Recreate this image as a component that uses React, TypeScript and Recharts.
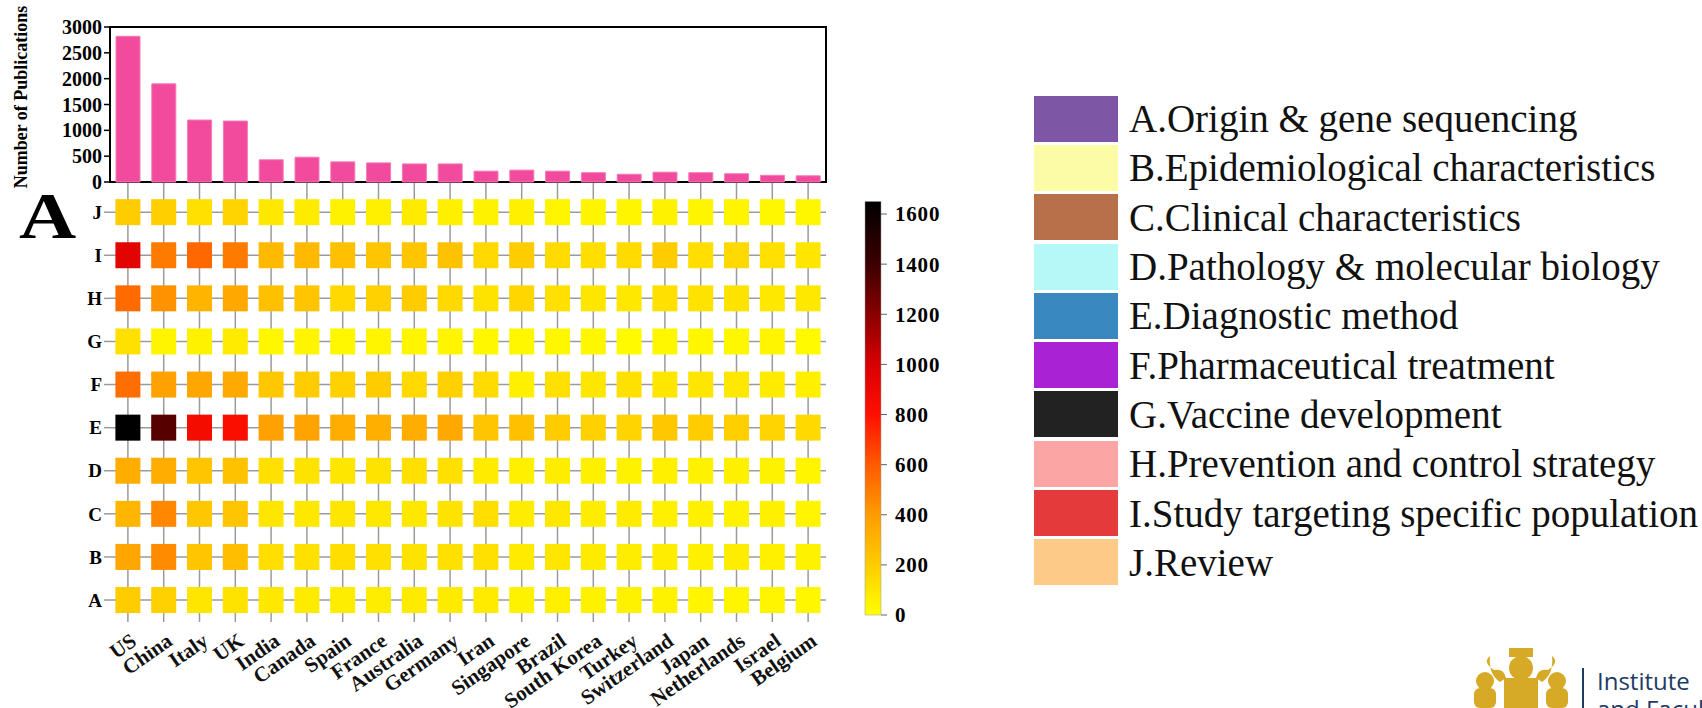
import React from "react";
import {
  BarChart,
  Bar,
  XAxis,
  YAxis,
  ScatterChart,
  Scatter,
  CartesianGrid,
  ReferenceArea,
} from "recharts";

const serif = "'Liberation Serif', 'Times New Roman', serif";

const countries = [
  "US", "China", "Italy", "UK", "India", "Canada", "Spain", "France", "Australia", "Germany",
  "Iran", "Singapore", "Brazil", "South Korea", "Turkey", "Switzerland", "Japan", "Netherlands", "Israel", "Belgium",
];

const publications = [2820, 1900, 1200, 1180, 430, 480, 390, 370, 350, 350, 210, 230, 210, 180, 150, 190, 180, 160, 130, 120];
const pubTicks = [0, 500, 1000, 1500, 2000, 2500, 3000];

const topicKeys = ["A", "B", "C", "D", "E", "F", "G", "H", "I", "J"];
const topicNames = [
  "A.Origin & gene sequencing",
  "B.Epidemiological characteristics",
  "C.Clinical characteristics",
  "D.Pathology & molecular biology",
  "E.Diagnostic method",
  "F.Pharmaceutical treatment",
  "G.Vaccine development",
  "H.Prevention and control strategy",
  "I.Study targeting specific population",
  "J.Review",
];
const topicColors = ["#7e56a6", "#fdfca6", "#b8704a", "#b6f8f8", "#3a88c0", "#a923d5", "#222222", "#fba5a5", "#e53a3b", "#fdca88"];

// papers per topic, one value per country (same order as countries)
const topicA = [200, 180, 100, 110, 90, 80, 70, 70, 80, 80, 80, 50, 60, 50, 50, 50, 40, 40, 40, 30];
const topicB = [360, 450, 230, 260, 130, 120, 130, 120, 110, 120, 120, 80, 100, 80, 70, 70, 60, 70, 60, 50];
const topicC = [290, 460, 220, 230, 100, 90, 100, 90, 90, 110, 130, 70, 90, 70, 80, 60, 60, 50, 60, 40];
const topicD = [330, 330, 230, 240, 120, 110, 100, 110, 120, 120, 80, 60, 70, 60, 50, 60, 50, 60, 50, 40];
const topicE = [1650, 1330, 850, 830, 380, 370, 330, 320, 330, 350, 230, 250, 200, 180, 170, 220, 200, 190, 170, 150];
const topicF = [540, 380, 360, 340, 220, 200, 180, 200, 150, 180, 140, 60, 120, 100, 120, 100, 100, 90, 80, 60];
const topicG = [120, 40, 50, 80, 30, 40, 30, 40, 40, 40, 30, 30, 30, 30, 20, 30, 30, 30, 40, 20];
const topicH = [550, 430, 300, 350, 250, 230, 150, 180, 200, 150, 110, 160, 120, 100, 90, 120, 110, 110, 90, 90];
const topicI = [950, 500, 560, 500, 280, 280, 250, 230, 230, 240, 150, 200, 140, 130, 140, 200, 130, 150, 120, 100];
const topicJ = [200, 190, 120, 170, 90, 80, 50, 60, 80, 60, 50, 60, 40, 40, 40, 50, 40, 40, 30, 30];

const topicRows = [topicA, topicB, topicC, topicD, topicE, topicF, topicG, topicH, topicI, topicJ];

const colorMax = 1650;
const colorTicks = [0, 200, 400, 600, 800, 1000, 1200, 1400, 1600];
const heatStops: [number, string][] = [
  [0, "#ffff00"],
  [200, "#ffcc00"],
  [400, "#ff9c00"],
  [600, "#ff5a00"],
  [800, "#ff1000"],
  [1000, "#d80000"],
  [1200, "#8a0000"],
  [1400, "#3c0000"],
  [1650, "#000000"],
];

function hexToRgb(h: string) {
  return [1, 3, 5].map((i) => parseInt(h.slice(i, i + 2), 16));
}

function heatColor(v: number) {
  const val = Math.max(0, Math.min(colorMax, v));
  for (let i = 1; i < heatStops.length; i++) {
    const [v1, c1] = heatStops[i];
    if (val <= v1) {
      const [v0, c0] = heatStops[i - 1];
      const t = (val - v0) / (v1 - v0);
      const a = hexToRgb(c0);
      const b = hexToRgb(c1);
      const rgb = a.map((x, k) => Math.round(x + (b[k] - x) * t));
      return `rgb(${rgb[0]},${rgb[1]},${rgb[2]})`;
    }
  }
  return "#000";
}

const barData = countries.map((c, i) => ({ country: c, count: publications[i] }));
const heatCells = topicRows.flatMap((row, r) =>
  row.map((value, col) => ({ col, row: r, value }))
);
const colorData = [{ name: "scale", span: [0, colorMax] }];

const colIdx = countries.map((_, i) => i);
const rowIdx = topicKeys.map((_, i) => i);

function HeatCell(props: any) {
  const { cx, cy, payload } = props;
  return <rect x={cx - 12.5} y={cy - 13} width={25} height={26} fill={heatColor(payload.value)} />;
}

function CountryTick(props: any) {
  const { x, y, payload } = props;
  const tx = x + 10;
  const ty = y + 14;
  return (
    <text
      x={tx}
      y={ty}
      transform={`rotate(-35, ${tx}, ${ty})`}
      textAnchor="end"
      fontFamily={serif}
      fontWeight="bold"
      fontSize={21}
      fill="#111"
    >
      {countries[payload.value]}
    </text>
  );
}

const axisFont = { fontFamily: serif, fontWeight: 700, fontSize: 20, fill: "#000" };

export default function App() {
  return (
    <div style={{ position: "fixed", left: 0, top: 0, width: 1702, height: 708, background: "#fff", overflow: "hidden" }}>
      {/* heatmap */}
      <div style={{ position: "absolute", left: 0, top: 0 }}>
        <ScatterChart width={850} height={708} margin={{ top: 182, right: 24, bottom: 0, left: 0 }}>
          <CartesianGrid stroke="#9b9b9b" strokeWidth={1.5} syncWithTicks />
          <XAxis
            type="number"
            dataKey="col"
            domain={[-0.5, 19.5]}
            ticks={colIdx}
            interval={0}
            tick={<CountryTick />}
            tickLine={false}
            axisLine={false}
            height={86}
          />
          <YAxis
            type="number"
            dataKey="row"
            domain={[-0.51, 9.7]}
            ticks={rowIdx}
            interval={0}
            tickFormatter={(v: number) => topicKeys[v]}
            tick={{ ...axisFont, fontSize: 19 }}
            tickLine={{ stroke: "#9b9b9b", strokeWidth: 1.5 }}
            axisLine={false}
            width={110}
          />
          <Scatter data={heatCells} shape={HeatCell} isAnimationActive={false} />
        </ScatterChart>
      </div>

      {/* publications bar chart */}
      <div style={{ position: "absolute", left: 0, top: 0 }}>
        <BarChart width={850} height={190} data={barData} margin={{ top: 27, right: 24, bottom: 8, left: 0 }}>
          <XAxis dataKey="country" tick={false} tickLine={false} axisLine={false} height={0} />
          <YAxis
            domain={[0, 3000]}
            ticks={pubTicks}
            interval={0}
            tick={axisFont}
            tickLine={{ stroke: "#000", strokeWidth: 1.5 }}
            axisLine={false}
            width={110}
          />
          <Bar dataKey="count" fill="#f24a9d" stroke="#f57ab6" strokeWidth={1} barSize={24} isAnimationActive={false} />
          <ReferenceArea y1={0} y2={3000} fill="none" stroke="#000" strokeWidth={2} ifOverflow="visible" />
        </BarChart>
      </div>

      {/* colour scale */}
      <div style={{ position: "absolute", left: 850, top: 190 }}>
        <BarChart width={130} height={440} data={colorData} margin={{ top: 11.5, right: 0, bottom: 15, left: 15 }} barCategoryGap={0}>
          <defs>
            <linearGradient id="heatGradient" x1="0" y1="1" x2="0" y2="0">
              {heatStops.map(([v, c]) => (
                <stop key={v} offset={v / colorMax} stopColor={c} />
              ))}
            </linearGradient>
          </defs>
          <XAxis dataKey="name" hide />
          <YAxis
            orientation="right"
            domain={[0, colorMax]}
            ticks={colorTicks}
            interval={0}
            tick={{ ...axisFont, fontSize: 21, letterSpacing: 0.8 }}
            tickLine={{ stroke: "#666", strokeWidth: 1 }}
            axisLine={false}
            tickMargin={8}
            width={99}
          />
          <Bar dataKey="span" fill="url(#heatGradient)" stroke="#999" strokeWidth={0.5} isAnimationActive={false} />
        </BarChart>
      </div>

      {/* overlay texts */}
      <svg width={1702} height={708} style={{ position: "absolute", left: 0, top: 0, pointerEvents: "none" }}>
        <text
          x={27}
          y={97}
          transform="rotate(-90, 27, 97)"
          textAnchor="middle"
          fontFamily={serif}
          fontWeight="bold"
          fontSize={18}
          fill="#000"
        >
          Number of Publications
        </text>
        <text
          x={0}
          y={0}
          transform="translate(19, 238) scale(1.2, 1)"
          fontFamily={serif}
          fontWeight="bold"
          fontSize={66}
          fill="#000"
        >
          A
        </text>
        {/* logo watermark */}
        <g fill="#d6aa27">
          <rect x={1509} y={648} width={24} height={9} />
          <ellipse cx={1521} cy={668} rx={12} ry={12} />
          <rect x={1504} y={678} width={34} height={30} />
          <path d="M1490 656 q-8 6 4 14 q10 -2 12 8 l-6 4 q-12 -8 -10 -26z" />
          <path d="M1552 656 q8 6 -4 14 q-10 -2 -12 8 l6 4 q12 -8 10 -26z" />
          <circle cx={1485} cy={681} r={9} />
          <rect x={1474} y={688} width={22} height={20} rx={6} />
          <circle cx={1557} cy={681} r={9} />
          <rect x={1546} y={688} width={22} height={20} rx={6} />
        </g>
        <rect x={1582} y={668} width={2} height={40} fill="#1d3b63" />
        <text x={1597} y={690} fontFamily="'Open Sans', sans-serif" fontSize={24} fill="#1d3b63">
          Institute
        </text>
        <text x={1597} y={718} fontFamily="'Open Sans', sans-serif" fontSize={24} fill="#1d3b63">
          and Faculty
        </text>
      </svg>

      {/* topic legend */}
      <div style={{ position: "absolute", left: 1034, top: 94 }}>
        {topicNames.map((name, i) => (
          <div key={name} style={{ display: "flex", alignItems: "center", height: 49.3 }}>
            <div style={{ width: 84, height: 46, background: topicColors[i], flexShrink: 0 }} />
            <span
              style={{
                marginLeft: 11,
                fontFamily: serif,
                fontSize: 39,
                lineHeight: 1,
                color: "#111",
                whiteSpace: "nowrap",
              }}
            >
              {name}
            </span>
          </div>
        ))}
      </div>
    </div>
  );
}
